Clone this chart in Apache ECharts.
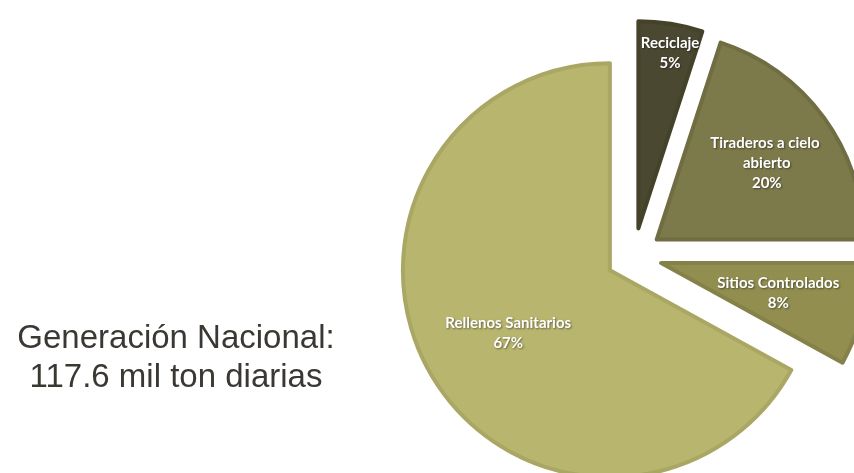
<!DOCTYPE html>
<html>
<head>
<meta charset="utf-8">
<script src="https://cdn.jsdelivr.net/npm/echarts@6/dist/echarts.min.js"></script>
<style>
html,body{margin:0;padding:0;background:#fff;}
#c{width:854px;height:473px;}
</style>
</head>
<body>
<div id="c"></div>
<script>
const categories = ['Reciclaje', 'Tiraderos a cielo abierto', 'Sitios Controlados', 'Rellenos Sanitarios'];
const values = [5, 20, 8, 67];
const colors = ['#4b4832', '#7c794a', '#918e50', '#b8b56e'];
const borderColors = ['#444229', '#706d42', '#858249', '#aaa765'];
const labelShift = [[15, -70], [24, -14], [14, 4], [-10, 9]];
const titleLines = ['Generación Nacional:', '117.6 mil ton diarias'];

const chart = echarts.init(document.getElementById('c'), null, {renderer: 'canvas'});
const data = categories.map((n, i) => {
  const item = {
    name: n,
    value: values[i],
    selected: true,
    itemStyle: {color: colors[i], borderColor: borderColors[i], borderWidth: 4}
  };
  if (i === 1) item.label = {width: 130, overflow: 'break'};
  return item;
});
chart.setOption({
  backgroundColor: '#ffffff',
  animation: false,
  title: {
    text: titleLines.join('\n'),
    left: 171,
    top: 314,
    textAlign: 'center',
    textStyle: {
      fontFamily: 'Liberation Sans, Arial, sans-serif',
      fontSize: 33,
      fontWeight: 'normal',
      color: '#3b3833',
      lineHeight: 39
    }
  },
  series: [{
    type: 'pie',
    center: [634, 256],
    radius: 207,
    startAngle: 90,
    clockwise: true,
    selectedMode: 'multiple',
    selectedOffset: 28,
    percentPrecision: 0,
    data: data,
    label: {
      show: true,
      position: 'inside',
      formatter: '{b}\n{d}%',
      color: '#ffffff',
      fontFamily: 'Lato, Noto Sans, sans-serif',
      fontWeight: 'bold',
      fontSize: 15,
      lineHeight: 20,
      textShadowColor: 'rgba(0,0,0,0.45)',
      textShadowBlur: 2,
      textShadowOffsetX: 1,
      textShadowOffsetY: 1
    },
    labelLayout: function (p) {
      const s = labelShift[p.dataIndex];
      return {dx: s[0], dy: s[1]};
    },
    labelLine: {show: false},
    emphasis: {disabled: true},
    select: {itemStyle: {}}
  }]
});
</script>
</body>
</html>
